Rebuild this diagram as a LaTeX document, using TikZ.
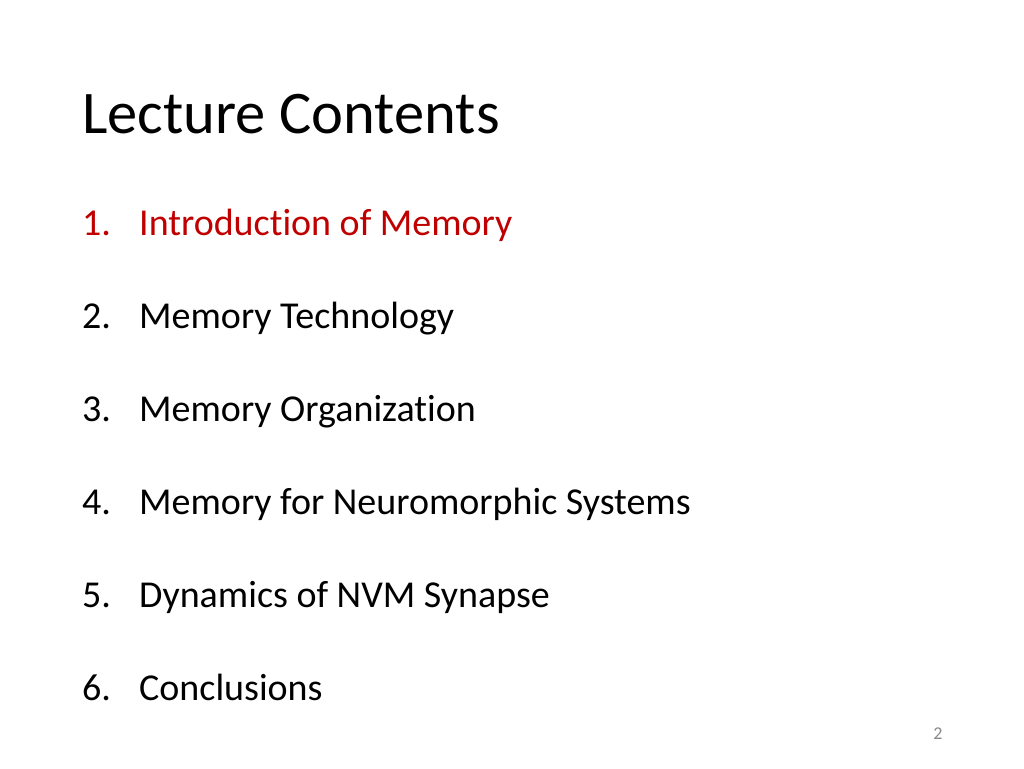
\documentclass[tikz,border=0pt]{standalone}
\usepackage{fontspec}
\setmainfont[Ligatures={NoCommon}]{Carlito}
\definecolor{itemred}{RGB}{192,0,0}
\definecolor{pagegray}{RGB}{137,137,137}
\tikzset{
  title/.style={anchor=base west, inner sep=0pt, font=\fontsize{60.5}{72}\selectfont},
  num/.style={anchor=base west, inner sep=0pt, font=\fontsize{38}{46}\selectfont},
  itemtext/.style={anchor=base west, inner sep=0pt, font=\fontsize{38}{46}\selectfont},
  pagenum/.style={anchor=base, inner sep=0pt, text=pagegray, font=\fontsize{18}{21}\selectfont}
}
\begin{document}
\begin{tikzpicture}[x=1pt,y=-1pt]
\useasboundingbox[fill=white] (0,0) rectangle (1024,768);
\node[title] (t) at (82,133) {Lecture Contents};
\node[num, text=itemred] (n1) at (82,235) {1.};
\node[itemtext, text=itemred] (i1) at (139,235) {Introduction of Memory};
\node[num] (n2) at (82,328) {2.};
\node[itemtext] (i2) at (139,328) {Memory Technology};
\node[num] (n3) at (82,421) {3.};
\node[itemtext] (i3) at (139,421) {Memory Organization};
\node[num] (n4) at (82,514) {4.};
\node[itemtext] (i4) at (139,514) {Memory for Neuromorphic Systems};
\node[num] (n5) at (82,607) {5.};
\node[itemtext] (i5) at (139,607) {Dynamics of NVM Synapse};
\node[num] (n6) at (82,700) {6.};
\node[itemtext] (i6) at (139,700) {Conclusions};
\node[pagenum] (pg) at (938,739) {2};
\end{tikzpicture}
\end{document}
